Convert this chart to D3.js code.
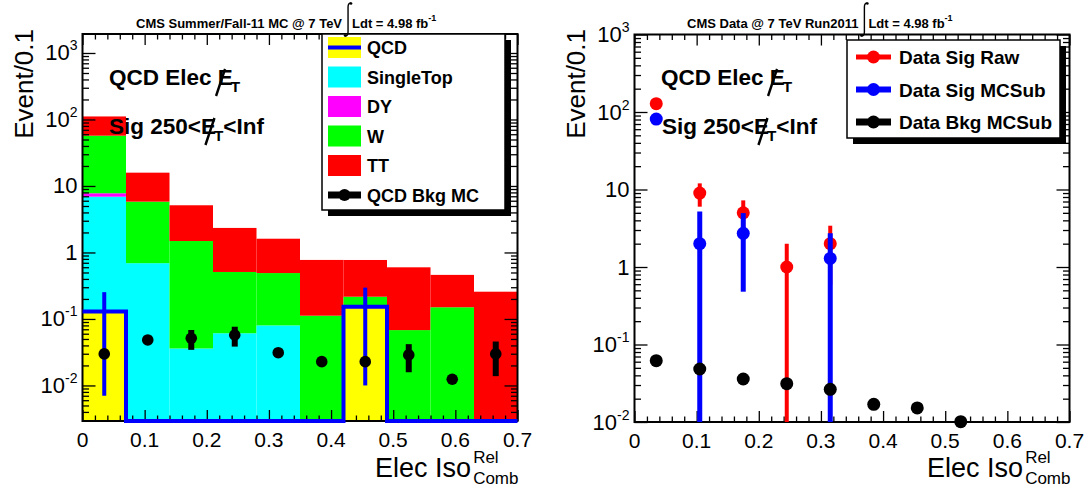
<!DOCTYPE html>
<html><head><meta charset="utf-8">
<script src="https://cdn.jsdelivr.net/npm/d3@7"></script>
<style>
body{margin:0;background:#fff}
svg text{font-family:"Liberation Sans",Arial,Helvetica,sans-serif;fill:#000}
</style>
</head><body>
<svg id="c" width="1088" height="489"></svg>
<script>
// ---------------- DATA ----------------
const binEdges   = [0, 0.07, 0.14, 0.21, 0.28, 0.35, 0.42, 0.49, 0.56, 0.63, 0.70];
const binCenters = [0.035, 0.105, 0.175, 0.245, 0.315, 0.385, 0.455, 0.525, 0.595, 0.665];

// Left: MC stack (per process, stacked bottom -> top)
const qcd       = [0.13, 0, 0, 0, 0, 0, 0.153, 0, 0, 0];
const qcdErr    = [0.123, 0, 0, 0, 0, 0, 0.143, 0, 0, 0];
const singleTop = [6.77, 0.69, 0.036, 0.061, 0.080, 0, 0, 0, 0, 0];
const dy        = [0.87, 0, 0, 0, 0, 0, 0, 0, 0, 0];
const wjets     = [49.3, 5.12, 1.45, 0.448, 0.41, 0.112, 0.063, 0.068, 0.15, 0];
const ttbar     = [54, 10.04, 3.64, 1.83, 1.12, 0.66, 0.555, 0.53, 0.31, 0.257];
const qcdBkgMC    = [0.0298, 0.0483, 0.0513, 0.0574, 0.0311, 0.0228, 0.0228, 0.0288, 0.0124, 0.0298];
const qcdBkgMCErr = [0.004, 0.005, 0.017, 0.019, 0.004, 0.003, 0.003, 0.013, 0.001, 0.016];

// Right: data
const sigRaw      = [128, 9, 5, 1, 2, 0, 0, 0, 0, 0];
const sigRawErr   = [11.3, 3, 2.24, 1, 1.41, 0, 0, 0, 0, 0];
const sigMCSub    = [81, 2, 2.72, 0, 1.29, 0, 0, 0, 0, 0];
const sigMCSubErr = [11.3, 3.2, 2.24, 0, 1.43, 0, 0, 0, 0, 0];
const bkgMCSub    = [0.0618, 0.0483, 0.0359, 0.0312, 0.0264, 0.0169, 0.0152, 0.0101, 0, 0];
const bkgMCSubErr = [0.002, 0.002, 0.002, 0.002, 0.002, 0.001, 0.001, 0.001, 0, 0];

const xTickLabels = ["0", "0.1", "0.2", "0.3", "0.4", "0.5", "0.6", "0.7"];
const xMajorTicks = [0, 0.1, 0.2, 0.3, 0.4, 0.5, 0.6, 0.7];
const yDecades    = [-2, -1, 0, 1, 2, 3];

const stackNames  = ["QCD", "SingleTop", "DY", "W", "TT"];
const stackColors = ["#ffff00", "#00ffff", "#ff00ff", "#00ff00", "#ff0000"];
const stackSeries = [qcd, singleTop, dy, wjets, ttbar];

// ---------------- SETUP ----------------
const svg = d3.select("#c");
function measure(s, size, weight) {
  const t = svg.append("text").attr("font-size", size).attr("font-weight", weight || "normal").text(s);
  const w = t.node().getComputedTextLength(); t.remove(); return w;
}

const panels = {
  left:  {x0: 82.5, x1: 517.5, y0: 34, y1: 421, ymin: 0.00292, ymax: 1930},
  right: {x0: 634.5, x1: 1069.5, y0: 34.5, y1: 422, ymin: 0.01, ymax: 1000}
};

function makeScales(P) {
  const x = d3.scaleLinear().domain([0, 0.7]).range([P.x0, P.x1]);
  const y = d3.scaleLog().domain([P.ymin, P.ymax]).range([P.y1, P.y0]).clamp(true);
  return {x, y};
}
const yv = (y, P, v) => v <= 0 ? P.y1 : y(v);

function drawAxes(g, P, x, y) {
  const minorX = d3.range(0, 0.7001, 0.02).filter(v => Math.abs(v*10 - Math.round(v*10)) > 1e-6);
  const gx = g.append("g");
  gx.append("g").attr("transform", `translate(0,${P.y1})`)
    .call(d3.axisBottom(x).tickValues(xMajorTicks).tickSize(-11).tickFormat(""));
  gx.append("g").attr("transform", `translate(0,${P.y1})`)
    .call(d3.axisBottom(x).tickValues(minorX).tickSize(-5.5).tickFormat(""));
  gx.append("g").attr("transform", `translate(0,${P.y0})`)
    .call(d3.axisTop(x).tickValues(xMajorTicks).tickSize(-11).tickFormat(""));
  gx.append("g").attr("transform", `translate(0,${P.y0})`)
    .call(d3.axisTop(x).tickValues(minorX).tickSize(-5.5).tickFormat(""));
  const lo = Math.floor(Math.log10(P.ymin)), hi = Math.ceil(Math.log10(P.ymax));
  const majY = [], minY = [];
  for (let d = lo; d <= hi; d++) {
    const b = Math.pow(10, d);
    if (b >= P.ymin * 0.999 && b <= P.ymax * 1.001) majY.push(b);
    for (let k = 2; k <= 9; k++) { const v = k * b; if (v > P.ymin && v < P.ymax) minY.push(v); }
  }
  gx.append("g").attr("transform", `translate(${P.x0},0)`)
    .call(d3.axisLeft(y).tickValues(majY).tickSize(-13).tickFormat(""));
  gx.append("g").attr("transform", `translate(${P.x0},0)`)
    .call(d3.axisLeft(y).tickValues(minY).tickSize(-6.5).tickFormat(""));
  gx.append("g").attr("transform", `translate(${P.x1},0)`)
    .call(d3.axisRight(y).tickValues(majY).tickSize(-13).tickFormat(""));
  gx.append("g").attr("transform", `translate(${P.x1},0)`)
    .call(d3.axisRight(y).tickValues(minY).tickSize(-6.5).tickFormat(""));
  gx.selectAll(".domain").remove();
  gx.selectAll(".tick line").attr("stroke", "#000").attr("stroke-width", 1.3);
  g.append("rect").attr("x", P.x0).attr("y", P.y0).attr("width", P.x1 - P.x0).attr("height", P.y1 - P.y0)
    .attr("fill", "none").attr("stroke", "#000").attr("stroke-width", 2);

  // tick labels
  xMajorTicks.forEach((v, i) => {
    g.append("text").attr("x", x(v)).attr("y", P.y1 + 26).attr("font-size", 21)
      .attr("text-anchor", "middle").text(xTickLabels[i]);
  });
  yDecades.forEach(d => {
    const yy = y(Math.pow(10, d));
    const t = g.append("text").attr("x", P.x0 - 5).attr("y", yy + 7.5).attr("font-size", 22).attr("text-anchor", "end");
    if (d === 0) t.text("1");
    else if (d === 1) t.text("10");
    else {
      t.append("tspan").text("10");
      t.append("tspan").attr("font-size", 14).attr("dy", -10).text(String(d));
    }
  });
  // axis titles
  g.append("text").attr("transform", `translate(${P.x0 - 50},29) rotate(-90)`)
    .attr("font-size", 26).attr("text-anchor", "end").text("Event/0.1");
  const wMain = measure("Elec Iso", 27), wComb = measure("Comb", 17);
  const xs = P.x1 + 1 - wComb - 2 - wMain;
  g.append("text").attr("x", xs).attr("y", 477).attr("font-size", 27).text("Elec Iso");
  g.append("text").attr("x", xs + wMain + 2).attr("y", 463).attr("font-size", 17).text("Rel");
  g.append("text").attr("x", xs + wMain + 2).attr("y", 484).attr("font-size", 17).text("Comb");
}

function metLabel(g, x, base, pre, post, size) {
  const wPre = measure(pre, size, "bold");
  const wE = measure("E", size, "bold");
  const t = g.append("text").attr("x", x).attr("y", base).attr("font-size", size).attr("font-weight", "bold");
  t.append("tspan").text(pre + "E");
  t.append("tspan").attr("font-size", size * 0.68).attr("dy", 7).attr("dx", -2).text("T");
  t.append("tspan").attr("dy", -7).text(post);
  const ex = x + wPre;
  g.append("line").attr("x1", ex + wE * 0.3).attr("y1", base + 11).attr("x2", ex + wE * 0.9).attr("y2", base - 16)
    .attr("stroke", "#000").attr("stroke-width", 2.4);
}

function title(g, x, pre) {
  const size = 13;
  g.append("text").attr("x", x).attr("y", 28).attr("font-size", size).attr("font-weight", "bold").text(pre);
  const w = measure(pre, size, "bold");
  const ix = x + w + 6;
  g.append("path").attr("d", `M${ix + 3},3 Q${ix},3 ${ix},7 L${ix},32 Q${ix},36 ${ix - 3},36`)
    .attr("fill", "none").attr("stroke", "#000").attr("stroke-width", 1.4);
  g.append("circle").attr("cx", ix + 3).attr("cy", 3.5).attr("r", 1.3);
  g.append("circle").attr("cx", ix - 3).attr("cy", 35.5).attr("r", 1.3);
  const t = g.append("text").attr("x", ix + 4).attr("y", 28).attr("font-size", size).attr("font-weight", "bold");
  t.append("tspan").text("Ldt = 4.98 fb");
  t.append("tspan").attr("font-size", 9).attr("dy", -7).text("-1");
}

// ---------------- LEFT PANEL ----------------
(function () {
  const P = panels.left, {x, y} = makeScales(P);
  const g = svg.append("g");
  // stacked histogram
  binCenters.forEach((c, i) => {
    let cum = 0;
    stackSeries.forEach((s, k) => {
      const v = s[i];
      if (v <= 0) return;
      const lo = cum, hi = cum + v; cum = hi;
      const yTop = yv(y, P, hi), yBot = yv(y, P, lo);
      g.append("rect").attr("x", x(binEdges[i])).attr("width", x(binEdges[i + 1]) - x(binEdges[i]))
        .attr("y", yTop).attr("height", Math.max(0, yBot - yTop)).attr("fill", stackColors[k]);
    });
  });
  drawAxes(g, P, x, y);
  // QCD outline
  let d = "";
  qcd.forEach((v, i) => {
    const yy = yv(y, P, v);
    d += (i === 0 ? `M${x(binEdges[0])},${yy}` : `L${x(binEdges[i])},${yy}`) + `L${x(binEdges[i + 1])},${yy}`;
  });
  g.append("path").attr("d", d).attr("fill", "none").attr("stroke", "#0000ff").attr("stroke-width", 4);
  qcd.forEach((v, i) => {
    if (v <= 0) return;
    g.append("line").attr("x1", x(binCenters[i])).attr("x2", x(binCenters[i]))
      .attr("y1", yv(y, P, v + qcdErr[i])).attr("y2", yv(y, P, v - qcdErr[i]))
      .attr("stroke", "#0000ff").attr("stroke-width", 4);
  });
  // QCD Bkg MC points
  qcdBkgMC.forEach((v, i) => {
    if (v <= 0) return;
    g.append("line").attr("x1", x(binCenters[i])).attr("x2", x(binCenters[i]))
      .attr("y1", yv(y, P, v + qcdBkgMCErr[i])).attr("y2", yv(y, P, v - qcdBkgMCErr[i]))
      .attr("stroke", "#000").attr("stroke-width", 6);
    g.append("circle").attr("cx", x(binCenters[i])).attr("cy", y(v)).attr("r", 5.8).attr("fill", "#000");
  });
  // legend
  const L = {x: 322, y: 34, w: 183, h: 176};
  g.append("rect").attr("x", L.x + 6).attr("y", L.y + 6).attr("width", L.w).attr("height", L.h).attr("fill", "#000");
  g.append("rect").attr("x", L.x).attr("y", L.y).attr("width", L.w).attr("height", L.h)
    .attr("fill", "#fff").attr("stroke", "#000").attr("stroke-width", 1.5);
  const names = stackNames.concat(["QCD Bkg MC"]);
  names.forEach((n, i) => {
    const yc = L.y + 13.5 + i * 29.5;
    if (i < 5) {
      g.append("rect").attr("x", 328).attr("y", yc - 10.5).attr("width", 33).attr("height", 21).attr("fill", stackColors[i]);
      if (i === 0) g.append("line").attr("x1", 328).attr("x2", 361).attr("y1", yc).attr("y2", yc)
        .attr("stroke", "#0000ff").attr("stroke-width", 4);
    } else {
      g.append("line").attr("x1", 328).attr("x2", 361).attr("y1", yc).attr("y2", yc)
        .attr("stroke", "#000").attr("stroke-width", 7);
      g.append("circle").attr("cx", 344.5).attr("cy", yc).attr("r", 6).attr("fill", "#000");
    }
    g.append("text").attr("x", 367).attr("y", yc + 6.5).attr("font-size", 18).attr("font-weight", "bold").text(n);
  });
  metLabel(g, 109, 85, "QCD Elec ", "", 22.5);
  metLabel(g, 109, 134, "Sig 250<", "<Inf", 22.5);
  title(g, 136, "CMS Summer/Fall-11 MC @ 7 TeV");
})();

// ---------------- RIGHT PANEL ----------------
(function () {
  const P = panels.right, {x, y} = makeScales(P);
  const g = svg.append("g");
  drawAxes(g, P, x, y);
  const series = [
    {v: sigRaw, e: sigRawErr, c: "#ff0000", w: 4, name: "Data Sig Raw"},
    {v: sigMCSub, e: sigMCSubErr, c: "#0000ff", w: 5, name: "Data Sig MCSub"},
    {v: bkgMCSub, e: bkgMCSubErr, c: "#000000", w: 6, name: "Data Bkg MCSub"}
  ];
  series.forEach(S => {
    S.v.forEach((v, i) => {
      if (v <= 0) return;
      g.append("line").attr("x1", x(binCenters[i])).attr("x2", x(binCenters[i]))
        .attr("y1", yv(y, P, v + S.e[i])).attr("y2", yv(y, P, v - S.e[i]))
        .attr("stroke", S.c).attr("stroke-width", S.w);
      g.append("circle").attr("cx", x(binCenters[i])).attr("cy", y(v)).attr("r", 6.5).attr("fill", S.c);
    });
  });
  const L = {x: 847, y: 40, w: 213, h: 98};
  g.append("rect").attr("x", L.x + 6).attr("y", L.y + 6).attr("width", L.w).attr("height", L.h).attr("fill", "#000");
  g.append("rect").attr("x", L.x).attr("y", L.y).attr("width", L.w).attr("height", L.h)
    .attr("fill", "#fff").attr("stroke", "#000").attr("stroke-width", 1.5);
  series.forEach((S, i) => {
    const yc = L.y + 17 + i * 32.5;
    g.append("line").attr("x1", 856).attr("x2", 891).attr("y1", yc).attr("y2", yc)
      .attr("stroke", S.c).attr("stroke-width", S.w + 1);
    g.append("circle").attr("cx", 873.5).attr("cy", yc).attr("r", 6.5).attr("fill", S.c);
    g.append("text").attr("x", 899).attr("y", yc + 7).attr("font-size", 19).attr("font-weight", "bold").text(S.name);
  });
  metLabel(g, 661, 85, "QCD Elec ", "", 22.5);
  metLabel(g, 662, 134, "Sig 250<", "<Inf", 22.5);
  title(g, 687, "CMS Data @ 7 TeV Run2011");
})();
</script>
</body></html>
